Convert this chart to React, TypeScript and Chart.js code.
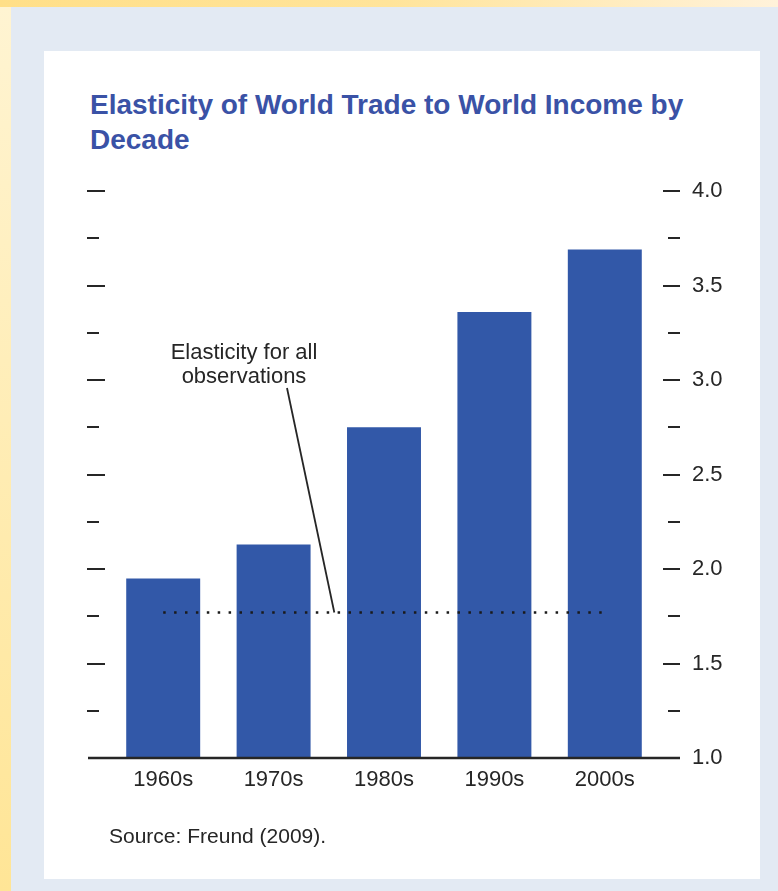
import React, { useEffect, useRef } from 'react';
import { Chart, registerables } from 'chart.js';

Chart.register(...registerables);

// values
const decades = ['1960s', '1970s', '1980s', '1990s', '2000s'];
const elasticity = [1.95, 2.13, 2.75, 3.36, 3.69];
const allObservations = 1.77;
const annotationLines = ['Elasticity for all', 'observations'];

const FONT = '"Liberation Sans", Arial, Helvetica, sans-serif';
const INK = '#262626';
const BAR = '#3258a8';

const frame = {
  id: 'frame',
  afterDatasetsDraw(chart: any) {
    const { ctx, chartArea } = chart;
    const y = chart.scales.y;
    const x = chart.scales.x;
    ctx.save();
    ctx.strokeStyle = INK;
    ctx.lineWidth = 2;
    // tick marks on both sides, long at the half steps
    y.ticks.forEach((t: any) => {
      if (t.value <= y.min + 1e-6) return;
      const major = Math.abs(t.value * 2 - Math.round(t.value * 2)) < 1e-6;
      const py = Math.round(y.getPixelForValue(t.value));
      ctx.beginPath();
      ctx.moveTo(chartArea.left - 21, py);
      ctx.lineTo(chartArea.left - 21 + (major ? 18 : 12), py);
      ctx.moveTo(chartArea.right + 20 - (major ? 17 : 12), py);
      ctx.lineTo(chartArea.right + 20, py);
      ctx.stroke();
    });
    // base line
    const by = y.getPixelForValue(y.min);
    ctx.lineWidth = 2.5;
    ctx.beginPath();
    ctx.moveTo(chartArea.left - 20, by);
    ctx.lineTo(chartArea.right + 20, by);
    ctx.stroke();

    // annotation with leader line
    const cx = chartArea.left + 136;
    ctx.fillStyle = INK;
    ctx.font = `22px ${FONT}`;
    ctx.textAlign = 'center';
    ctx.textBaseline = 'alphabetic';
    annotationLines.forEach((line, i) => ctx.fillText(line, cx, 359 + i * 24));
    const x1 = x.getPixelForValue(1);
    const x2 = x.getPixelForValue(2);
    ctx.lineWidth = 1.8;
    ctx.beginPath();
    ctx.moveTo(cx + 43, 388);
    ctx.lineTo(x1 + (x2 - x1) * 0.55, y.getPixelForValue(allObservations));
    ctx.stroke();
    ctx.restore();
  },
};

function ElasticityChart() {
  const ref = useRef<HTMLCanvasElement>(null);
  useEffect(() => {
    if (!ref.current) return;
    const chart = new Chart(ref.current, {
      type: 'bar',
      data: {
        labels: decades,
        datasets: [
          {
            type: 'line',
            label: 'Elasticity for all observations',
            data: decades.map(() => allObservations),
            borderColor: '#1a1a1a',
            borderWidth: 2.5,
            borderDash: [2.5, 8.4],
            pointRadius: 0,
            fill: false,
            order: 0,
          } as any,
          {
            type: 'bar',
            label: 'Elasticity',
            data: elasticity,
            backgroundColor: BAR,
            barPercentage: 0.67,
            categoryPercentage: 1,
            order: 1,
          },
        ],
      },
      options: {
        animation: false,
        responsive: false,
        events: [],
        layout: { padding: { left: 108, right: 48, top: 191, bottom: 83 } },
        plugins: { legend: { display: false }, tooltip: { enabled: false } },
        scales: {
          x: {
            grid: { display: false, drawTicks: false },
            border: { display: false },
            ticks: { color: INK, font: { family: FONT, size: 22 }, padding: 9 },
            afterFit: (s: any) => {
              s.height = 50;
            },
          },
          y: {
            position: 'right',
            min: 1,
            max: 4,
            grid: { display: false, drawTicks: false },
            border: { display: false },
            ticks: {
              stepSize: 0.25,
              autoSkip: false,
              padding: 32,
              color: INK,
              font: { family: FONT, size: 22 },
              callback: (v: any) => {
                const n = Number(v);
                return Math.abs(n * 2 - Math.round(n * 2)) < 1e-6 ? n.toFixed(1) : '';
              },
            },
            afterFit: (s: any) => {
              s.width = 70;
            },
          },
        },
      },
      plugins: [frame],
    });
    return () => chart.destroy();
  }, []);
  return <canvas ref={ref} width={778} height={891} style={{ position: 'absolute', left: 0, top: 0 }} />;
}

export default function App() {
  useEffect(() => {
    document.body.style.margin = '0';
  }, []);
  return (
    <div style={{ position: 'relative', width: 778, height: 891, overflow: 'hidden', background: '#e3eaf3', fontFamily: FONT }}>
      <div style={{ position: 'absolute', left: 0, top: 0, width: 778, height: 7, background: 'linear-gradient(to right, #ffdf88, #ffe49a 50%, #fff2da)' }} />
      <div style={{ position: 'absolute', left: 0, top: 7, width: 11, height: 884, background: 'linear-gradient(to bottom, #fff4d2, #ffe596)' }} />
      <div style={{ position: 'absolute', left: 44, top: 51, width: 716, height: 828, background: '#ffffff' }} />
      <div style={{ position: 'absolute', left: 90, top: 87, fontSize: 28, lineHeight: '35px', fontWeight: 'bold', color: '#3a52a6', whiteSpace: 'nowrap' }}>
        Elasticity of World Trade to World Income by
        <br />
        Decade
      </div>
      <ElasticityChart />
      <div style={{ position: 'absolute', left: 109, top: 824, fontSize: 21, lineHeight: '24px', color: INK, whiteSpace: 'nowrap' }}>
        Source: Freund (2009).
      </div>
    </div>
  );
}
